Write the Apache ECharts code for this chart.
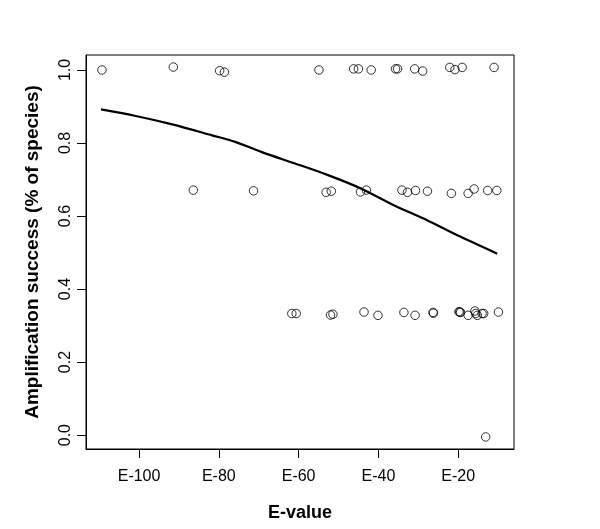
<!DOCTYPE html>
<html>
<head>
<meta charset="utf-8">
<script src="https://cdn.jsdelivr.net/npm/echarts@6/dist/echarts.min.js"></script>
<style>
html,body{margin:0;padding:0;background:#fff;}
#chart{width:600px;height:529px;}
</style>
</head>
<body>
<div id="chart"></div>
<script>
// Observed points (E-value exponent, amplification success)
var topX = [-109.3, -91.4, -79.8, -78.6, -54.9, -46.2, -45.0, -41.8, -35.7, -35.2, -30.9, -28.9, -22.1, -20.8, -19.0, -11.0];
var topY = [1.000, 1.008, 0.998, 0.994, 1.000, 1.003, 1.003, 1.000, 1.003, 1.003, 1.003, 0.997, 1.007, 1.001, 1.007, 1.007];
var midX = [-86.4, -71.3, -53.1, -51.8, -44.5, -43.0, -34.1, -32.7, -30.7, -27.7, -21.7, -17.5, -16.0, -12.6, -10.3];
var midY = [0.671, 0.669, 0.665, 0.668, 0.666, 0.671, 0.671, 0.665, 0.670, 0.668, 0.662, 0.662, 0.674, 0.670, 0.670];
var lowX = [-61.7, -60.6, -52.0, -51.4, -43.6, -40.1, -33.6, -30.8, -26.3, -26.2, -19.8, -19.6, -19.4, -17.5, -15.8, -15.6, -15.2, -14.0, -13.6, -9.9, -13.1];
var lowY = [0.333, 0.333, 0.329, 0.331, 0.337, 0.328, 0.336, 0.328, 0.336, 0.334, 0.338, 0.337, 0.336, 0.328, 0.340, 0.333, 0.328, 0.333, 0.333, 0.337, -0.005];
// Fitted curve
var curveX = [-109.55, -100.82, -91.67, -81.70, -75.89, -69.23, -60.92, -52.62, -44.29, -35.98, -27.68, -19.35, -10.22];
var curveY = [0.892, 0.874, 0.851, 0.821, 0.803, 0.775, 0.744, 0.712, 0.675, 0.629, 0.588, 0.543, 0.497];
// Ticks
var xTicks = [-100, -80, -60, -40, -20];
var yTicks = [0.0, 0.2, 0.4, 0.6, 0.8, 1.0];

function zip(a, b) { return a.map(function (v, i) { return [v, b[i]]; }); }
var points = zip(topX, topY).concat(zip(midX, midY)).concat(zip(lowX, lowY));

var FONT = 'Liberation Sans, Arial, Helvetica, sans-serif';
var chart = echarts.init(document.getElementById('chart'), null, {renderer: 'canvas'});
chart.setOption({
  animation: false,
  backgroundColor: '#fff',
  grid: {left: 86, right: 86, top: 55, bottom: 80, show: true, borderColor: '#000', borderWidth: 1, backgroundColor: 'transparent'},
  xAxis: {
    type: 'value', min: -113.3, max: -6.0,
    splitLine: {show: false}, axisLine: {show: true, onZero: false, lineStyle: {color: '#000', width: 1}},
    axisTick: {show: true, length: 9, inside: false, customValues: xTicks, lineStyle: {color: '#000', width: 1}},
    axisLabel: {customValues: xTicks, margin: 20, color: '#000', fontSize: 16, fontFamily: FONT,
      formatter: function (v) { return 'E' + v; }},
    name: 'E-value', nameLocation: 'middle', nameGap: 55,
    nameTextStyle: {color: '#000', fontSize: 18, fontWeight: 'bold', fontFamily: FONT}
  },
  yAxis: {
    type: 'value', min: -0.038, max: 1.041,
    splitLine: {show: false}, axisLine: {show: true, onZero: false, lineStyle: {color: '#000', width: 1}},
    axisTick: {show: true, length: 9, inside: false, customValues: yTicks, lineStyle: {color: '#000', width: 1}},
    axisLabel: {customValues: yTicks, margin: 12, rotate: 90, color: '#000', fontSize: 16, fontFamily: FONT,
      formatter: function (v) { return v.toFixed(1); }},
    name: 'Amplification success (% of species)', nameLocation: 'middle', nameGap: 44, nameRotate: 90,
    nameTextStyle: {color: '#000', fontSize: 19, fontWeight: 'bold', fontFamily: FONT}
  },
  series: [
    {type: 'scatter', data: points, symbol: 'circle', symbolSize: 8.5,
     itemStyle: {color: 'rgba(0,0,0,0)', borderColor: '#000', borderWidth: 1}, z: 3},
    {type: 'line', data: zip(curveX, curveY), smooth: 0.3, showSymbol: false,
     lineStyle: {color: '#000', width: 2.2}, z: 2}
  ]
});
</script>
</body>
</html>
